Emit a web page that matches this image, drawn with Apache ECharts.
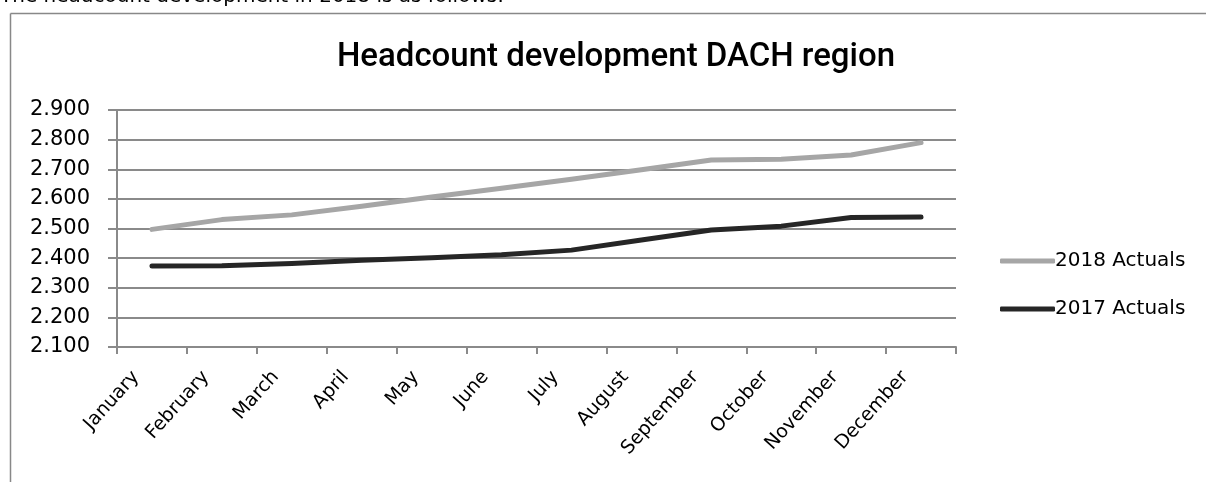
<!DOCTYPE html>
<html>
<head>
<meta charset="utf-8">
<script src="https://cdn.jsdelivr.net/npm/echarts@6/dist/echarts.min.js"></script>
<style>
html,body{margin:0;padding:0;background:#fff;}
#c{width:1206px;height:482px;}
</style>
</head>
<body>
<div id="c"></div>
<script>
const months = ['January','February','March','April','May','June','July','August','September','October','November','December'];
const actuals2018 = [2497, 2530, 2546, 2575, 2606, 2636, 2666, 2698, 2731, 2734, 2748, 2790];
const actuals2017 = [2373, 2374, 2382, 2393, 2401, 2411, 2427, 2461, 2495, 2508, 2537, 2539];
const seriesNames = ['2018 Actuals', '2017 Actuals'];
const titleText = 'Headcount development DACH region';
const introText = 'The headcount development in 2018 is as follows:';

const FONT = 'DejaVu Sans';
const chart = echarts.init(document.getElementById('c'), null, {renderer: 'canvas'});
chart.setOption({
  backgroundColor: '#fff',
  animation: false,
  title: {
    text: titleText,
    left: 611, top: 36, textAlign: 'center',
    textStyle: {fontFamily: 'Roboto', fontSize: 33, fontWeight: 500, color: '#000'}
  },
  graphic: [
    {type: 'line', shape: {x1: 10.5, y1: 13.5, x2: 1206, y2: 13.5}, style: {stroke: '#888', lineWidth: 1.5}},
    {type: 'line', shape: {x1: 10.5, y1: 13.5, x2: 10.5, y2: 482}, style: {stroke: '#888', lineWidth: 1.5}},
    {type: 'text', left: 0, top: -13.5, style: {text: introText, font: '20px "DejaVu Sans"', fill: '#000'}}
  ],
  legend: {
    orient: 'vertical', left: 995, top: 246, itemGap: 28,
    icon: 'roundRect', itemWidth: 55, itemHeight: 5,
    textStyle: {fontFamily: FONT, fontSize: 20, color: '#000', padding: [0, 0, 0, -5]},
    data: seriesNames
  },
  grid: {left: 117, right: 250, top: 110, bottom: 135, containLabel: false},
  xAxis: {
    type: 'category', data: months, boundaryGap: true,
    axisLine: {lineStyle: {color: '#8a8a8a', width: 2}},
    axisTick: {show: true, interval: 0, length: 7, lineStyle: {color: '#8a8a8a', width: 2}},
    axisLabel: {interval: 0, rotate: 48, margin: 9, padding: [0, 24, 0, 0], fontFamily: FONT, fontSize: 19, color: '#000'},
    splitLine: {show: false}
  },
  yAxis: {
    type: 'value', min: 2100, max: 2900, interval: 100,
    axisLine: {show: true, lineStyle: {color: '#8a8a8a', width: 2}},
    axisTick: {show: true, length: 9, lineStyle: {color: '#8a8a8a', width: 2}},
    axisLabel: {fontFamily: FONT, fontSize: 21, color: '#000', margin: 27,
      formatter: v => (v / 1000).toFixed(3)},
    splitLine: {show: true, lineStyle: {color: '#8a8a8a', width: 2}}
  },
  series: [
    {name: seriesNames[0], type: 'line', data: actuals2018, showSymbol: false, symbol: 'none',
      lineStyle: {color: '#a6a6a6', width: 5, cap: 'round', join: 'round'}, itemStyle: {color: '#a6a6a6'}},
    {name: seriesNames[1], type: 'line', data: actuals2017, showSymbol: false, symbol: 'none',
      lineStyle: {color: '#262626', width: 5, cap: 'round', join: 'round'}, itemStyle: {color: '#262626'}}
  ]
});
</script>
</body>
</html>
